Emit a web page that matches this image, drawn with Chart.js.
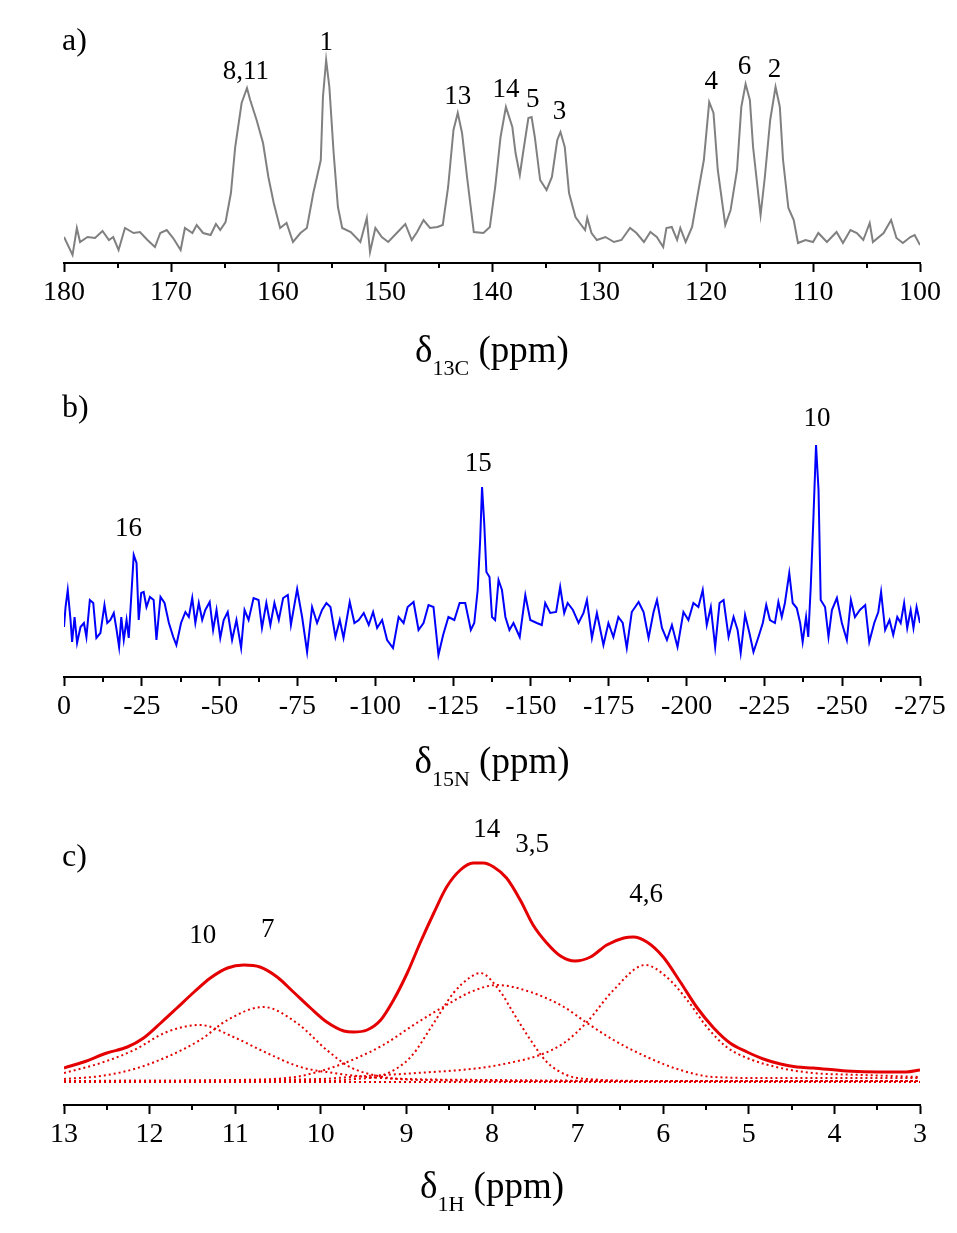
<!DOCTYPE html>
<html>
<head>
<meta charset="utf-8">
<title>NMR spectra</title>
<script src="https://cdn.jsdelivr.net/npm/chart.js@4.4.1/dist/chart.umd.min.js"></script>
<style>
html, body { margin: 0; padding: 0; background: #fff; }
#wrap { position: relative; width: 957px; height: 1233px; }
canvas { position: absolute; left: 0; }
</style>
</head>
<body>
<div id="wrap">
  <canvas id="chartC13" width="957" height="390" style="top:0px"></canvas>
  <canvas id="chartN15" width="957" height="420" style="top:390px"></canvas>
  <canvas id="chartH1" width="957" height="423" style="top:810px"></canvas>
</div>
<script>
// #region data (intensities are arbitrary units)

// a) 13C spectrum
var c13Ppm = [180.0, 179.2, 178.8, 178.5, 177.8, 177.1, 176.4, 175.8, 175.4, 174.9, 174.3, 173.5, 172.9, 172.2, 171.5, 171.0,
  170.4, 169.8, 169.1, 168.7, 168.0, 167.6, 167.0, 166.3, 165.8, 165.4, 164.9, 164.4, 164.0, 163.4, 162.9, 162.6, 162.0,
  161.4, 160.9, 160.4, 159.8, 159.2, 158.6, 157.9, 157.3, 156.7, 156.0, 155.8, 155.5, 155.2, 154.8, 154.4, 154.0, 153.2,
  152.3, 151.7, 151.4, 150.9, 150.3, 149.7, 148.9, 148.1, 147.5, 147.0, 146.4, 145.8, 145.1, 144.6, 144.1, 143.6, 143.2,
  142.8, 142.3, 141.7, 140.8, 140.2, 139.7, 139.2, 138.7, 138.1, 137.8, 137.4, 137.1, 136.6, 136.3, 136.0, 135.5, 134.9,
  134.4, 133.9, 133.6, 133.2, 132.8, 132.2, 131.8, 131.3, 131.1, 130.7, 130.2, 129.4, 128.6, 127.9, 127.1, 126.5, 125.8,
  125.2, 124.6, 124.0, 123.7, 123.2, 122.7, 122.4, 121.9, 121.3, 120.7, 120.2, 119.7, 119.3, 118.9, 118.2, 117.7, 117.1,
  116.7, 116.3, 115.9, 115.6, 114.9, 114.5, 114.0, 113.5, 113.1, 112.8, 112.3, 111.8, 111.4, 110.7, 110.0, 109.5, 108.7,
  107.8, 107.2, 106.5, 105.9, 105.3, 104.7, 104.4, 103.4, 102.7, 102.2, 101.6, 100.9, 100.5, 100.0];
var c13Int = [26, 8, 35, 21, 26, 25, 32, 23, 26, 13, 35, 30, 31, 23, 16, 30,
  33, 25, 13, 35, 30, 38, 30, 28, 39, 33, 41, 70, 116, 160, 175, 163, 143,
  120, 86, 60, 35, 40, 21, 30, 35, 70, 103, 166, 203, 176, 110, 56, 35, 31,
  21, 45, 11, 35, 26, 21, 30, 39, 23, 31, 43, 35, 36, 38, 76, 133, 150,
  130, 83, 31, 30, 36, 76, 126, 156, 136, 110, 88, 110, 145, 146, 126, 83, 73,
  86, 123, 131, 116, 70, 46, 40, 33, 45, 30, 23, 26, 21, 23, 35, 30, 21,
  31, 26, 16, 35, 36, 23, 35, 21, 36, 73, 103, 161, 150, 93, 38, 53, 93,
  156, 179, 163, 116, 48, 86, 143, 176, 156, 103, 55, 43, 20, 23, 21, 30, 21,
  31, 20, 33, 30, 23, 40, 21, 30, 43, 25, 20, 26, 28, 18];
var c13PeakText = ['8,11', '1', '13', '14', '5', '3', '4', '6', '2'];
var c13PeakPpm = [163.0, 155.5, 143.2, 138.7, 136.2, 133.7, 119.5, 116.4, 113.6];
var c13PeakInt = [191, 220, 166, 173, 163, 151, 181, 196, 193];

// b) 15N spectrum
var n15Ppm = [0, -0.5, -1.2, -2.1, -2.6, -3.4, -4.2, -5.3, -6.4, -7.2, -8.3, -9.4, -10.4, -11.7, -13.0, -13.9, -14.9, -16.0,
  -16.9, -17.7, -18.4, -19.2, -20.1, -20.8, -21.6, -22.4, -23.3, -24.0, -24.8, -25.6, -26.5, -27.6, -28.8, -29.7, -31.0,
  -32.3, -33.7, -35.1, -36.1, -37.6, -39.0, -40.1, -41.2, -42.2, -43.3, -44.4, -45.4, -46.8, -47.9, -49.0, -50.2, -51.3,
  -52.6, -54.0, -55.4, -56.9, -58.0, -59.3, -60.9, -62.5, -63.6, -65.0, -66.3, -67.6, -69.0, -70.4, -71.9, -72.9, -74.9,
  -76.5, -78.1, -79.7, -81.3, -82.9, -84.3, -85.6, -87.2, -88.6, -89.8, -91.8, -93.3, -94.7, -96.3, -97.9, -99.3, -100.6,
  -102.2, -103.8, -105.7, -107.5, -109.1, -110.4, -112.3, -113.9, -115.5, -117.1, -118.7, -120.3, -121.8, -123.5, -125.4,
  -127.1, -128.9, -130.7, -131.8, -132.9, -133.7, -134.3, -135.0, -135.7, -136.7, -137.5, -138.5, -139.6, -140.7, -141.8,
  -143.1, -144.4, -146.4, -148.2, -149.8, -151.9, -153.5, -154.6, -156.2, -158.1, -159.4, -160.7, -161.8, -163.5, -165.3,
  -166.9, -168.0, -169.6, -171.2, -173.3, -174.9, -176.5, -178.1, -179.5, -180.8, -182.4, -184.6, -186.2, -187.8, -189.4,
  -190.5, -192.1, -193.7, -195.3, -197.1, -199.0, -200.6, -202.2, -203.8, -205.2, -206.5, -207.8, -209.2, -210.6, -211.9,
  -213.5, -215.1, -216.4, -217.4, -218.8, -220.2, -221.5, -223.1, -224.5, -225.6, -226.8, -228.4, -229.5, -230.6, -231.6,
  -233.0, -234.1, -235.4, -236.5, -237.3, -238.4, -239.1, -239.9, -240.7, -241.6, -242.4, -243.1, -244.5, -245.6, -246.7,
  -248.3, -249.9, -251.5, -252.8, -254.1, -255.7, -257.4, -258.7, -260.3, -261.6, -262.5, -263.8, -265.2, -266.4, -267.7,
  -268.8, -269.9, -270.9, -272.0, -272.9, -273.9, -275.0];
var n15Int = [50, 70, 87, 57, 35, 60, 34, 50, 54, 40, 77, 74, 39, 44, 72, 54, 57, 64,
  47, 30, 60, 37, 57, 39, 80, 122, 114, 57, 84, 85, 70, 80, 77, 37, 80,
  74, 54, 40, 32, 54, 65, 60, 79, 54, 74, 57, 67, 75, 47, 67, 39, 57,
  65, 37, 57, 29, 67, 57, 79, 77, 49, 74, 52, 74, 57, 79, 82, 52, 88,
  60, 25, 70, 54, 67, 74, 70, 40, 57, 39, 75, 54, 57, 64, 52, 65, 49,
  57, 37, 29, 60, 54, 70, 75, 47, 54, 72, 70, 22, 42, 60, 57,
  74, 74, 47, 54, 87, 137, 190, 154, 105, 100, 60, 57, 97, 87, 60,
  47, 54, 40, 82, 57, 54, 52, 74, 64, 65, 90, 64, 74, 67, 54,
  64, 77, 39, 64, 32, 54, 40, 60, 54, 29, 65, 75, 65, 39, 65,
  77, 49, 37, 52, 30, 65, 57, 74, 70, 87, 52, 70, 30, 74, 77,
  40, 60, 47, 24, 62, 44, 25, 40, 54, 72, 57, 54, 75, 60, 74,
  104, 74, 69, 54, 35, 60, 40, 90, 154, 232, 187, 77, 70, 40, 67,
  79, 54, 37, 77, 60, 67, 72, 35, 54, 65, 85, 47, 57, 42, 60,
  54, 74, 49, 67, 49, 70, 54];
var n15PeakText = ['16', '15', '10'];
var n15PeakPpm = [-20.7, -133.1, -241.9];
var n15PeakInt = [148, 213, 258];

// c) 1H spectrum: experimental envelope and fitted components
var h1TotalPpm = [13.0, 12.77, 12.5, 12.26, 12.07, 11.87, 11.68, 11.48, 11.29, 11.09, 10.9, 10.71, 10.51, 10.32, 10.12, 9.93,
  9.73, 9.62, 9.46, 9.3, 9.15, 8.99, 8.84, 8.68, 8.53, 8.37, 8.22, 8.1, 7.98, 7.83, 7.67, 7.52, 7.36, 7.2, 7.03, 6.85, 6.66,
  6.46, 6.35, 6.19, 6.0, 5.8, 5.61, 5.41, 5.22, 5.02, 4.83, 4.63, 4.44, 4.25, 3.86, 3.47, 3.16, 3.0];
var h1TotalInt = [37, 43, 52, 58, 67, 82, 97, 113, 127, 137, 140, 138, 128, 113, 97, 83,
  74, 73, 75, 85, 105, 132, 162, 192, 218, 235, 242, 242, 238, 227, 205, 180, 162, 149, 144, 148, 160,
  167, 168, 163, 148, 123, 98, 77, 62, 53, 46, 41, 38, 37, 34, 33, 33, 35];
var h1Fit10Ppm = [13.0, 12.57, 12.18, 11.8, 11.41, 11.02, 10.63, 10.24, 9.85, 9.46, 9.0, 8.0, 6.0, 3.0];
var h1Fit10Int = [32, 42, 55, 73, 80, 68, 52, 38, 32, 28, 26, 25, 24, 24];
var h1Fit7Ppm = [13.0, 12.57, 12.18, 11.8, 11.41, 11.09, 10.67, 10.28, 9.93, 9.66, 9.27, 8.8, 7.0, 3.0];
var h1Fit7Int = [26, 29, 36, 48, 65, 85, 98, 82, 55, 38, 28, 25, 24, 24];
var h1Fit14Ppm = [13.0, 10.0, 9.6, 9.27, 8.95, 8.68, 8.45, 8.25, 8.14, 7.9, 7.75, 7.55, 7.36, 7.13, 6.89, 6.0, 3.0];
var h1Fit14Int = [24, 24, 26, 30, 48, 82, 112, 128, 132, 113, 92, 65, 43, 30, 26, 24, 24];
var h1Fit35Ppm = [13.0, 11.0, 10.3, 10.04, 9.85, 9.58, 9.27, 8.88, 8.57, 8.25, 7.94, 7.55, 7.16, 6.89, 6.58, 6.19, 5.8, 5.41, 4.8, 3.0];
var h1Fit35Int = [24, 25, 28, 33, 38, 47, 60, 82, 98, 113, 120, 113, 98, 82, 65, 48, 35, 28, 27, 27];
var h1Fit46Ppm = [13.0, 10.0, 9.66, 8.88, 8.14, 7.75, 7.44, 7.16, 6.89, 6.58, 6.21, 5.96, 5.72, 5.49, 5.26, 5.02, 4.63, 4.25, 3.66, 3.0];
var h1Fit46Int = [24, 26, 28, 32, 37, 43, 50, 62, 83, 115, 140, 128, 105, 78, 58, 47, 37, 32, 30, 28];
var h1BasePpm = [13.0, 3.0];
var h1BaseInt = [23, 23];
var h1PeakText = ['10', '7', '14', '3,5', '4,6'];
var h1PeakPpm = [11.38, 10.62, 8.06, 7.53, 6.2];
var h1PeakInt = [169, 175, 275, 260, 210];

// #endregion data

var SERIF = "'Liberation Serif', 'DejaVu Serif', serif";
var RED = 'rgb(228,0,0)';

function pares(xs, ys) {
    return xs.map(function (x, i) { return { x: x, y: ys[i] }; });
}

function ehMaior(value, major) {
    var r = Math.abs(value / major - Math.round(value / major));
    return r < 1e-6;
}

// desenha marcas menores, letra do painel, rótulos dos picos e título do eixo
function plugPainel(cfg) {
    return {
        id: 'painel',
        afterDraw: function (chart) {
            var ctx = chart.ctx;
            var xs = chart.scales.x, ys = chart.scales.y;
            var area = chart.chartArea;
            ctx.save();

            ctx.strokeStyle = '#000';
            ctx.lineWidth = 2;
            xs.ticks.forEach(function (t) {
                if (!ehMaior(t.value, cfg.major)) {
                    var px = Math.round(xs.getPixelForValue(t.value));
                    ctx.beginPath();
                    ctx.moveTo(px, area.bottom);
                    ctx.lineTo(px, area.bottom + 5);
                    ctx.stroke();
                }
            });

            ctx.fillStyle = '#000';
            ctx.textAlign = 'left';
            ctx.textBaseline = 'middle';
            ctx.font = '32px ' + SERIF;
            ctx.fillText(cfg.letra, 62, cfg.letraY);

            ctx.textAlign = 'center';
            ctx.font = '27px ' + SERIF;
            cfg.picoTxt.forEach(function (txt, i) {
                ctx.fillText(txt, xs.getPixelForValue(cfg.picoX[i]), ys.getPixelForValue(cfg.picoY[i]));
            });

            // título: δ com subscrito + (ppm)
            var base = area.bottom + cfg.queda;
            ctx.textAlign = 'left';
            ctx.textBaseline = 'alphabetic';
            ctx.font = '37px ' + SERIF;
            var w1 = ctx.measureText('δ').width;
            var w3 = ctx.measureText(' (ppm)').width;
            ctx.font = '22px ' + SERIF;
            var w2 = ctx.measureText(cfg.sub).width;
            var x0 = (area.left + area.right) / 2 - (w1 + w2 + w3) / 2;
            ctx.font = '37px ' + SERIF;
            ctx.fillText('δ', x0, base);
            ctx.font = '22px ' + SERIF;
            ctx.fillText(cfg.sub, x0 + w1, base + 13);
            ctx.font = '37px ' + SERIF;
            ctx.fillText(' (ppm)', x0 + w1 + w2, base);

            ctx.restore();
        }
    };
}

function criarGrafico(id, datasets, eixo, painel) {
    var canvas = document.getElementById(id);
    var alturaEixo = canvas.height - eixo.axisY;
    return new Chart(canvas, {
        type: 'line',
        data: { datasets: datasets },
        options: {
            responsive: false,
            animation: false,
            events: [],
            layout: { padding: { left: 64, right: 37, top: eixo.topo, bottom: 0 } },
            plugins: { legend: { display: false }, tooltip: { enabled: false } },
            elements: { point: { radius: 0 } },
            scales: {
                x: {
                    type: 'linear',
                    reverse: true,
                    min: eixo.min,
                    max: eixo.max,
                    afterFit: function (scale) { scale.height = alturaEixo; },
                    border: { display: true, color: '#000', width: 2 },
                    grid: {
                        display: true,
                        drawOnChartArea: false,
                        drawTicks: true,
                        tickLength: 9,
                        tickWidth: 2,
                        tickColor: function (c) {
                            return c.tick && ehMaior(c.tick.value, eixo.major) ? '#000' : 'rgba(0,0,0,0)';
                        }
                    },
                    ticks: {
                        stepSize: eixo.minor,
                        autoSkip: false,
                        maxRotation: 0,
                        padding: 4,
                        color: '#000',
                        font: { family: SERIF, size: 28 },
                        callback: function (v) { return ehMaior(v, eixo.major) ? String(Math.round(v)) : ''; }
                    }
                },
                y: { display: false, min: 0, max: eixo.axisY - eixo.topo }
            }
        },
        plugins: [plugPainel(painel)]
    });
}

function loadEspectros() {
    criarGrafico('chartC13', [{
        data: pares(c13Ppm, c13Int), borderColor: '#808080', borderWidth: 2, tension: 0
    }], { axisY: 263, topo: 20, min: 100, max: 180, minor: 5, major: 10 }, {
        major: 10, letra: 'a)', letraY: 42, sub: '13C', queda: 99,
        picoTxt: c13PeakText, picoX: c13PeakPpm, picoY: c13PeakInt
    });

    criarGrafico('chartN15', [{
        data: pares(n15Ppm, n15Int), borderColor: '#0000ff', borderWidth: 2, tension: 0
    }], { axisY: 287, topo: 10, min: -275, max: 0, minor: 12.5, major: 25 }, {
        major: 25, letra: 'b)', letraY: 19, sub: '15N', queda: 96,
        picoTxt: n15PeakText, picoX: n15PeakPpm, picoY: n15PeakInt
    });

    var pontilhado = { borderColor: RED, borderWidth: 2, borderDash: [2, 3], cubicInterpolationMode: 'monotone' };
    function comp(xs, ys) { return Object.assign({ data: pares(xs, ys) }, pontilhado); }
    criarGrafico('chartH1', [
        { data: pares(h1TotalPpm, h1TotalInt), borderColor: RED, borderWidth: 3, cubicInterpolationMode: 'monotone' },
        comp(h1Fit10Ppm, h1Fit10Int),
        comp(h1Fit7Ppm, h1Fit7Int),
        comp(h1Fit14Ppm, h1Fit14Int),
        comp(h1Fit35Ppm, h1Fit35Int),
        comp(h1Fit46Ppm, h1Fit46Int),
        comp(h1BasePpm, h1BaseInt)
    ], { axisY: 295, topo: 10, min: 3, max: 13, minor: 0.5, major: 1 }, {
        major: 1, letra: 'c)', letraY: 48, sub: '1H', queda: 93,
        picoTxt: h1PeakText, picoX: h1PeakPpm, picoY: h1PeakInt
    });
}

loadEspectros();
</script>
</body>
</html>
